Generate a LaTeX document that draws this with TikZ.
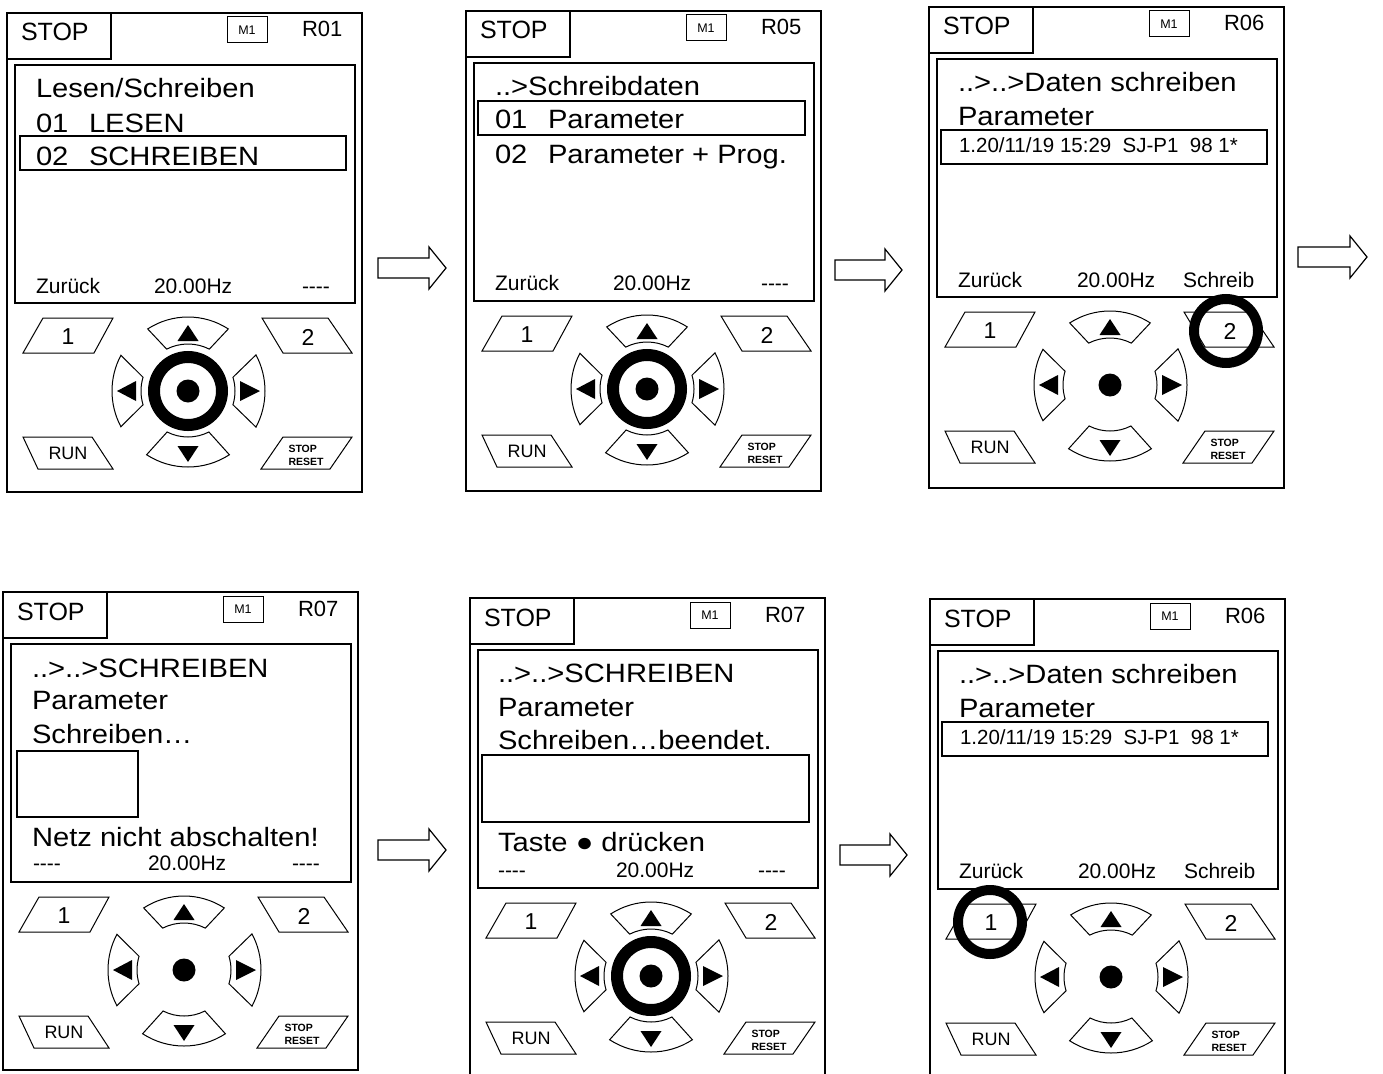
\documentclass[tikz,border=0pt]{standalone}
\usepackage{fontspec}
\setmainfont{Liberation Sans}[Ligatures=TeXOff]
\newfontfamily\scrfont{Liberation Sans}[Ligatures=TeXOff,FakeStretch=1.1]
\usetikzlibrary{calc}
\tikzset{
  frame/.style={draw, line width=1.3pt},
  thinln/.style={draw, line width=1pt, line join=miter},
  lbl/.style={anchor=base west, inner sep=0pt, outer sep=0pt},
  big/.style={lbl, font=\scrfont\fontsize{26.5}{30}\selectfont},
  mid/.style={lbl, font=\fontsize{21}{24}\selectfont},
  small/.style={lbl, font=\fontsize{20.5}{24}\selectfont},
  keytxt/.style={anchor=center, inner sep=0pt, font=\fontsize{23}{26}\selectfont},
  hl/.style={draw, line width=1.3pt},
  blockarrow/.style={draw, line width=1.2pt, fill=white, line join=miter},
  marker/.style={circle, draw, line width=10pt, minimum size=64pt, inner sep=0pt},
  centerdot/.style={circle, fill=black, inner sep=0pt, minimum size=23pt},
}

% #1 prefix, #2 R label, #3 ring (1/0), #4 frame height
\newcommand\devpanel[4]{%
  \draw[frame] (0,0) rectangle (355,#4);
  \draw[frame] (0,0) rectangle (104,46);
  \node[lbl, font=\fontsize{25}{28}\selectfont] (#1stop) at (14,28) {STOP};
  \draw[thinln] (220,4) rectangle (260,30);
  \node[anchor=center, inner sep=0pt, font=\fontsize{12.5}{14}\selectfont] (#1m) at (240,17) {M1};
  \node[lbl, font=\fontsize{22}{25}\selectfont] (#1r) at (295,24) {#2};
  \draw[frame] (8,52) rectangle (348,290);
  % soft keys
  \draw[thinln] (36,305) -- (106,305) -- (87,340) -- (16,340) -- cycle;
  \node[keytxt] (#1k1) at (61,324) {1};
  \draw[thinln] (255,305) -- (321,305) -- (345,340) -- (276,340) -- cycle;
  \node[keytxt] (#1k2) at (301,324) {2};
  \draw[thinln] (16,424) -- (85,424) -- (106,456) -- (31,456) -- cycle;
  \node[anchor=center, inner sep=0pt, font=\fontsize{18}{20}\selectfont] (#1run) at (61,440) {RUN};
  \draw[thinln] (276,424) -- (345,424) -- (323,456) -- (254,456) -- cycle;
  \node[anchor=center, inner sep=0pt, align=left, font=\bfseries\fontsize{10.5}{13}\selectfont] (#1sr) at (299,442) {STOP\\RESET};
  % d-pad
  \begin{scope}[shift={(181,378)}]
    \draw[thinln] (57:74pt) arc[start angle=57, end angle=123, radius=74pt] -- (117:47pt) arc[start angle=117, end angle=63, radius=47pt] -- cycle;
    \draw[thinln] (-57:76pt) arc[start angle=-57, end angle=-123, radius=76pt] -- (-117:46pt) arc[start angle=-117, end angle=-63, radius=46pt] -- cycle;
    \draw[thinln] (152:76pt) arc[start angle=152, end angle=208, radius=76pt] -- (197:47pt) arc[start angle=197, end angle=163, radius=47pt] -- cycle;
    \draw[thinln] (28:77pt) arc[start angle=28, end angle=-28, radius=77pt] -- (-17:47pt) arc[start angle=-17, end angle=17, radius=47pt] -- cycle;
    \fill (0,-66) -- (-10.5,-50) -- (10.5,-50) -- cycle;
    \fill (0,71) -- (-10.5,55) -- (10.5,55) -- cycle;
    \fill (-71,0) -- (-52,-10) -- (-52,10) -- cycle;
    \fill (72,0) -- (52,-10) -- (52,10) -- cycle;
    \ifnum#3=1 \draw[line width=12pt] (0,0) circle[radius=34pt];\fi
    \node[centerdot] (#1dot) at (0,0) {};
  \end{scope}
}

\newcommand\blockarr[3]{% x, y, length
  \begin{scope}[shift={(#1,#2)}]
    \draw[blockarrow] (0,-10) -- (#3-17,-10) -- (#3-17,-21) -- (#3,0) -- (#3-17,21) -- (#3-17,10) -- (0,10) -- cycle;
  \end{scope}
}

\begin{document}
\begin{tikzpicture}[x=1pt,y=-1pt]
\clip (0,0) rectangle (1383,1073);
\fill[white] (0,0) rectangle (1383,1073);

% Panel 1
\begin{scope}[shift={(7,13)}]
  \devpanel{pa}{R01}{1}{479}
  \draw[hl] (13,123) rectangle (339,157);
  \node[big] (pat1) at (29,84) {Lesen/Schreiben};
  \node[big] (pan1) at (29,119) {01};
  \node[big] (pat2) at (82,119) {LESEN};
  \node[big] (pan2) at (29,152) {02};
  \node[big] (pat3) at (82,152) {SCHREIBEN};
  \node[mid] (pab1) at (29,280) {Zurück};
  \node[mid] (pab2) at (147,280) {20.00Hz};
  \node[mid] (pab3) at (295,280) {----};
\end{scope}

% Panel 2
\begin{scope}[shift={(466,11)}]
  \devpanel{pb}{R05}{1}{480}
  \draw[hl] (12,90) rectangle (339,124);
  \node[big] (pbt1) at (29,84) {..>Schreibdaten};
  \node[big] (pbn1) at (29,117) {01};
  \node[big] (pbt2) at (82,117) {Parameter};
  \node[big] (pbn2) at (29,152) {02};
  \node[big] (pbt3) at (82,152) {Parameter + Prog.};
  \node[mid] (pbb1) at (29,279) {Zurück};
  \node[mid] (pbb2) at (147,279) {20.00Hz};
  \node[mid] (pbb3) at (295,279) {----};
\end{scope}

% Panel 3
\begin{scope}[shift={(929,7)}]
  \devpanel{pc}{R06}{0}{481}
  \draw[hl] (12,123) rectangle (338,157);
  \node[big] (pct1) at (29,85) {..>..>Daten schreiben};
  \node[big] (pct2) at (29,118) {Parameter};
  \node[small] (pct3) at (30,145) {1.20/11/19 15:29\ \ SJ-P1\ \ 98 1*};
  \node[mid] (pcb1) at (29,280) {Zurück};
  \node[mid] (pcb2) at (148,280) {20.00Hz};
  \node[mid] (pcb3) at (254,280) {Schreib};
  \node[marker] (pcmark) at (297,324) {};
\end{scope}

% Panel 4
\begin{scope}[shift={(3,592)}]
  \devpanel{pd}{R07}{0}{478}
  \node[big] (pdt1) at (29,85) {..>..>SCHREIBEN};
  \node[big] (pdt2) at (29,117) {Parameter};
  \node[big] (pdt3) at (29,151) {Schreiben…};
  \draw[hl] (14,159) rectangle (135,225);
  \node[big] (pdt4) at (29,254) {Netz nicht abschalten!};
  \node[mid] (pdb1) at (30,278) {----};
  \node[mid] (pdb2) at (145,278) {20.00Hz};
  \node[mid] (pdb3) at (289,278) {----};
\end{scope}

% Panel 5
\begin{scope}[shift={(470,598)}]
  \devpanel{pe}{R07}{1}{480}
  \node[big] (pet1) at (28,84) {..>..>SCHREIBEN};
  \node[big] (pet2) at (28,118) {Parameter};
  \node[big] (pet3) at (28,151) {Schreiben…beendet.};
  \draw[hl] (12,157) rectangle (339,224);
  \node[big] (pet4) at (28,253) {Taste ● drücken};
  \node[mid] (peb1) at (28,279) {----};
  \node[mid] (peb2) at (146,279) {20.00Hz};
  \node[mid] (peb3) at (288,279) {----};
\end{scope}

% Panel 6
\begin{scope}[shift={(930,599)}]
  \devpanel{pf}{R06}{0}{480}
  \draw[hl] (12,123) rectangle (338,157);
  \node[big] (pft1) at (29,84) {..>..>Daten schreiben};
  \node[big] (pft2) at (29,118) {Parameter};
  \node[small] (pft3) at (30,145) {1.20/11/19 15:29\ \ SJ-P1\ \ 98 1*};
  \node[mid] (pfb1) at (29,279) {Zurück};
  \node[mid] (pfb2) at (148,279) {20.00Hz};
  \node[mid] (pfb3) at (254,279) {Schreib};
  \node[marker] (pfmark) at (60,323) {};
\end{scope}

% arrows
\blockarr{378}{268}{68}
\blockarr{835}{270}{67}
\blockarr{1298}{257}{69}
\blockarr{378}{850}{68}
\blockarr{840}{855}{67}
\end{tikzpicture}
\end{document}
